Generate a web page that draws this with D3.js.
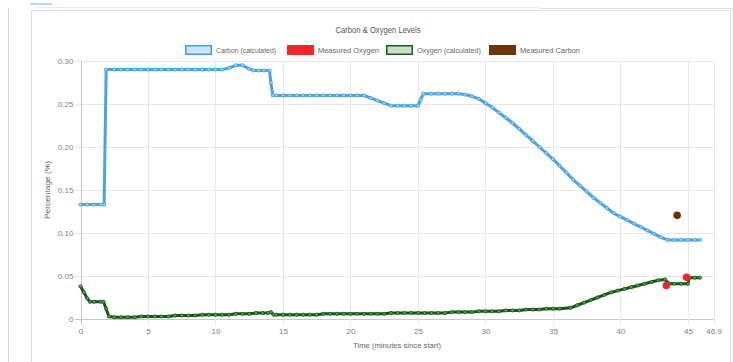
<!DOCTYPE html>
<html>
<head>
<meta charset="utf-8">
<script src="https://cdn.jsdelivr.net/npm/d3@7/dist/d3.min.js"></script>
<style>
  html, body { margin: 0; padding: 0; background: #fff; }
  svg { display: block; font-family: "Liberation Sans", Arial, sans-serif; }
</style>
</head>
<body>
<svg id="chart" width="733" height="362"></svg>
<script>
// Calculated carbon (% vs minutes since start)
const carbonTime = [0, 0.5, 1, 1.5, 1.75, 1.9, 2.5, 3, 3.5, 4, 4.5, 5, 5.5, 6, 6.5, 7, 7.5, 8, 8.5, 9, 9.5, 10, 10.5,
  11, 11.5, 12, 12.5, 12.8, 13.2, 13.6, 14, 14.1, 14.25, 14.5, 15, 15.5, 16, 16.5, 17, 17.5, 18, 18.5, 19, 19.5, 20, 20.5, 21,
  21.5, 22, 22.5, 23, 23.5, 24, 24.5, 25, 25.2, 25.4, 26, 26.5, 27, 27.5, 28, 28.5, 29, 29.5, 30, 30.5, 31, 31.5, 32,
  32.5, 33, 33.5, 34, 34.5, 35, 35.5, 36, 36.5, 37, 37.5, 38, 38.5, 39, 39.5, 40, 40.5, 41, 41.5, 42, 42.5, 43, 43.5,
  44, 44.5, 45, 45.5, 45.9];
const carbonPct = [0.133, 0.133, 0.133, 0.133, 0.133, 0.29, 0.29, 0.29, 0.29, 0.29, 0.29, 0.29, 0.29, 0.29, 0.29, 0.29, 0.29, 0.29, 0.29, 0.29, 0.29, 0.29, 0.29,
  0.292, 0.295, 0.295, 0.291, 0.289, 0.289, 0.289, 0.289, 0.275, 0.26, 0.26, 0.26, 0.26, 0.26, 0.26, 0.26, 0.26, 0.26, 0.26, 0.26, 0.26, 0.26, 0.26, 0.26,
  0.257, 0.254, 0.251, 0.248, 0.248, 0.248, 0.248, 0.248, 0.255, 0.262, 0.262, 0.262, 0.262, 0.262, 0.262, 0.261, 0.259, 0.256, 0.251, 0.246, 0.240, 0.234, 0.228,
  0.221, 0.214, 0.207, 0.200, 0.193, 0.186, 0.178, 0.170, 0.162, 0.155, 0.148, 0.141, 0.135, 0.129, 0.123, 0.119, 0.115, 0.111, 0.107, 0.103, 0.099, 0.095, 0.092,
  0.092, 0.092, 0.092, 0.092, 0.092];

// Calculated oxygen (% vs minutes since start)
const oxygenTime = [0, 0.25, 0.5, 0.7, 1, 1.5, 1.7, 1.9, 2.1, 2.5, 3, 3.5, 4, 4.5, 5, 5.5, 6, 6.5, 7, 7.5, 8, 8.5, 9, 9.5, 10,
  10.5, 11, 11.5, 12, 12.5, 13, 13.5, 13.9, 14.1, 14.3, 14.5, 15, 15.5, 16, 16.5, 17, 17.5, 18, 18.5, 19, 19.5, 20, 20.5, 21,
  21.5, 22, 22.5, 23, 23.5, 24, 24.5, 25, 25.5, 26, 26.5, 27, 27.5, 28, 28.5, 29, 29.5, 30, 30.5, 31, 31.5, 32, 32.5, 33,
  33.5, 34, 34.5, 35, 35.5, 36.3, 36.8, 37.3, 37.8, 38.3, 38.8, 39.3, 39.8, 40.3, 40.8, 41.3, 41.8, 42.3, 42.8, 43.3, 43.6,
  44, 44.5, 45, 45.1, 45.5, 45.9];
const oxygenPct = [0.038, 0.031, 0.024, 0.020, 0.020, 0.020, 0.020, 0.012, 0.003, 0.002, 0.002, 0.002, 0.002, 0.003, 0.003, 0.003, 0.003, 0.003, 0.004, 0.004, 0.004, 0.004, 0.005, 0.005, 0.005,
  0.005, 0.005, 0.006, 0.006, 0.006, 0.007, 0.007, 0.007, 0.008, 0.005, 0.005, 0.005, 0.005, 0.005, 0.005, 0.005, 0.005, 0.006, 0.006, 0.006, 0.006, 0.006, 0.006, 0.006,
  0.006, 0.006, 0.006, 0.007, 0.007, 0.007, 0.007, 0.007, 0.007, 0.007, 0.007, 0.007, 0.008, 0.008, 0.008, 0.008, 0.009, 0.009, 0.009, 0.009, 0.010, 0.010, 0.010, 0.011,
  0.011, 0.011, 0.012, 0.012, 0.012, 0.013, 0.016, 0.019, 0.022, 0.025, 0.028, 0.031, 0.033, 0.035, 0.037, 0.039, 0.041, 0.043, 0.045, 0.046, 0.041,
  0.041, 0.041, 0.041, 0.048, 0.048, 0.048];

// Lab measurements
const measuredOxygenTime = [43.4, 44.9];
const measuredOxygenPct = [0.039, 0.0485];
const measuredCarbonTime = [44.2];
const measuredCarbonPct = [0.1205];

// Axis ticks
const xTicks = [0, 5, 10, 15, 20, 25, 30, 35, 40, 45, 46.9];
const yTicks = [0, 0.05, 0.10, 0.15, 0.20, 0.25, 0.30];
const yTickLabels = ["0", "0.05", "0.10", "0.15", "0.20", "0.25", "0.30"];

const legendItems = [
  { label: "Carbon (calculated)", fill: "#cde5f6", stroke: "#3d9ee0", w: 60 },
  { label: "Measured Oxygen", fill: "#f5262b", stroke: "#f5262b", w: 61 },
  { label: "Oxygen (calculated)", fill: "#c9e0c6", stroke: "#1d5c1d", w: 64 },
  { label: "Measured Carbon", fill: "#6b3404", stroke: "#6b3404", w: 60 }
];

const svg = d3.select("#chart");

// Page chrome around the chart card
svg.append("line").attr("x1", 8.5).attr("x2", 8.5).attr("y1", 8).attr("y2", 362).attr("stroke", "#d6d6d6");
svg.append("line").attr("x1", 37).attr("x2", 540).attr("y1", 7.5).attr("y2", 7.5).attr("stroke", "#ececec");
svg.append("line").attr("x1", 540).attr("x2", 733).attr("y1", 8.5).attr("y2", 8.5).attr("stroke", "#dcdcdc");
svg.append("line").attr("x1", 30).attr("x2", 52).attr("y1", 4).attr("y2", 4).attr("stroke", "#a9cbe8").attr("stroke-width", 1.5);
svg.append("rect").attr("x", 31.5).attr("y", 10.5).attr("width", 699).attr("height", 360)
  .attr("fill", "#fff").attr("stroke", "#dedede");

const xLeft = 80.5, xRight = 713.6, yTop = 61, yBottom = 319;
const x = d3.scaleLinear().domain([0, 46.9]).range([xLeft, xRight]);
const y = d3.scaleLinear().domain([0, 0.30]).range([yBottom, yTop]);

// Grid
const grid = svg.append("g");
grid.selectAll(".hg").data(yTicks).join("line")
  .attr("x1", xLeft - 6).attr("x2", xRight)
  .attr("y1", d => Math.round(y(d)) + 0.5).attr("y2", d => Math.round(y(d)) + 0.5)
  .attr("stroke", d => d === 0 ? "#c8c8c8" : "#e8e8e8");
grid.selectAll(".vg").data(xTicks).join("line")
  .attr("x1", d => Math.round(x(d)) + 0.5).attr("x2", d => Math.round(x(d)) + 0.5)
  .attr("y1", yTop).attr("y2", yBottom + 6)
  .attr("stroke", d => d === 0 ? "#c8c8c8" : "#e8e8e8");

// Tick labels via d3 axes (domain hidden, grid drawn separately)
const xAxis = d3.axisBottom(x).tickValues(xTicks).tickSize(0).tickPadding(0)
  .tickFormat(d => d === 46.9 ? "46.9" : d3.format("d")(d));
const gx = svg.append("g").attr("transform", `translate(0,${yBottom + 13})`).call(xAxis);
gx.select(".domain").remove();
gx.selectAll("text").attr("fill", "#808080").attr("font-size", 8).attr("dy", "0.3em");

const yAxis = d3.axisLeft(y).tickValues(yTicks).tickSize(0).tickPadding(0)
  .tickFormat((d, i) => yTickLabels[i]);
const gy = svg.append("g").attr("transform", `translate(${xLeft - 7},0)`).call(yAxis);
gy.select(".domain").remove();
gy.selectAll("text").attr("fill", "#808080").attr("font-size", 8);
svg.selectAll(".tick text").attr("font-family", "'Liberation Sans', Arial, sans-serif");

// Axis titles
svg.append("text").attr("x", (xLeft + xRight) / 2).attr("y", 348).attr("text-anchor", "middle")
  .attr("font-size", 8).attr("fill", "#666").attr("textLength", 88).attr("lengthAdjust", "spacingAndGlyphs")
  .text("Time (minutes since start)");
svg.append("text").attr("transform", `translate(50,${(yTop + yBottom) / 2}) rotate(-90)`)
  .attr("text-anchor", "middle").attr("font-size", 8).attr("fill", "#666")
  .attr("textLength", 58).attr("lengthAdjust", "spacingAndGlyphs").text("Percentage (%)");

// Title
svg.append("text").attr("x", 378).attr("y", 33).attr("text-anchor", "middle")
  .attr("font-size", 8.5).attr("fill", "#555").attr("textLength", 85).attr("lengthAdjust", "spacingAndGlyphs")
  .text("Carbon & Oxygen Levels");

// Legend
const legend = svg.append("g");
const legendX = [185, 287, 386, 489];
legendItems.forEach((it, i) => {
  const g = legend.append("g").attr("transform", `translate(${legendX[i]},45)`);
  g.append("rect").attr("x", 0.75).attr("y", 0.75).attr("width", 25.5).attr("height", 8.5)
    .attr("fill", it.fill).attr("stroke", it.stroke).attr("stroke-width", 1.5);
  g.append("text").attr("x", 31).attr("y", 8).attr("font-size", 8).attr("fill", "#666")
    .attr("textLength", it.w).attr("lengthAdjust", "spacingAndGlyphs").text(it.label);
});

// Series
const line = d3.line().x(d => x(d[0])).y(d => y(d[1]));
const carbonData = carbonTime.map((t, i) => [t, carbonPct[i]]);
const oxygenData = oxygenTime.map((t, i) => [t, oxygenPct[i]]);

svg.append("path").datum(carbonData).attr("d", line)
  .attr("fill", "none").attr("stroke", "#4aa3e3").attr("stroke-width", 3).attr("stroke-linejoin", "round");
svg.append("g").selectAll("circle").data(carbonData).join("circle")
  .attr("cx", d => x(d[0])).attr("cy", d => y(d[1])).attr("r", 1.6)
  .attr("fill", "#a6d3f3").attr("stroke", "#3d9ee0").attr("stroke-width", 0.8);

svg.append("path").datum(oxygenData).attr("d", line)
  .attr("fill", "none").attr("stroke", "#185418").attr("stroke-width", 3).attr("stroke-linejoin", "round");
svg.append("g").selectAll("circle").data(oxygenData).join("circle")
  .attr("cx", d => x(d[0])).attr("cy", d => y(d[1])).attr("r", 1.6)
  .attr("fill", "#5fa05a").attr("stroke", "#185418").attr("stroke-width", 0.8);

// Measured points
svg.append("g").selectAll("circle").data(measuredOxygenTime.map((t, i) => [t, measuredOxygenPct[i]])).join("circle")
  .attr("cx", d => x(d[0])).attr("cy", d => y(d[1])).attr("r", 3.8).attr("fill", "#f5262b");
svg.append("g").selectAll("circle").data(measuredCarbonTime.map((t, i) => [t, measuredCarbonPct[i]])).join("circle")
  .attr("cx", d => x(d[0])).attr("cy", d => y(d[1])).attr("r", 3.8).attr("fill", "#6b3404");
</script>
</body>
</html>
